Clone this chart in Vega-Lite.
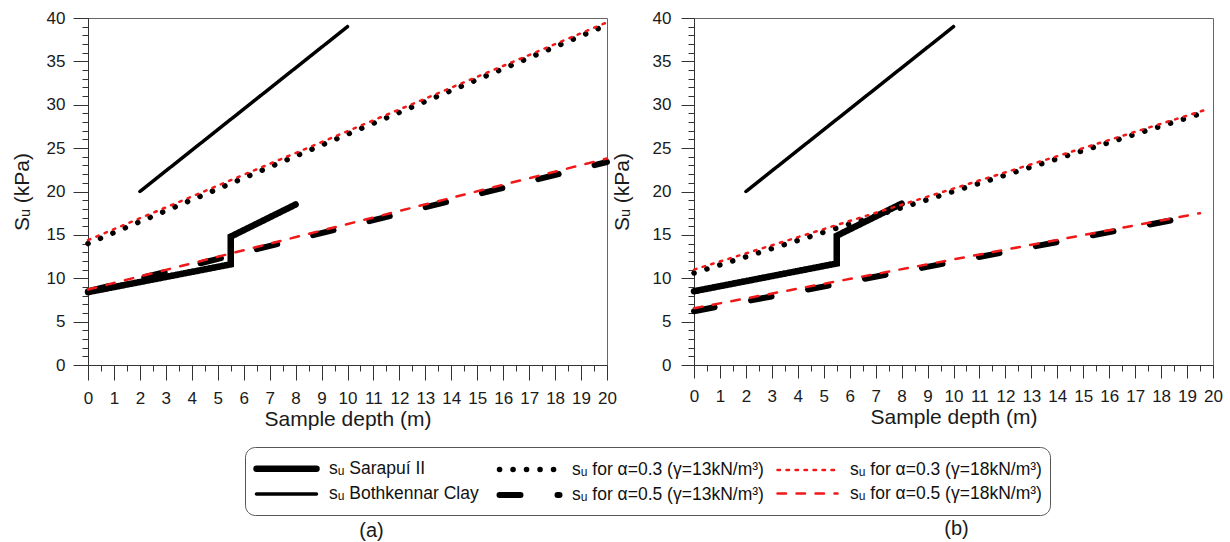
{
  "$schema": "https://vega.github.io/schema/vega-lite/v6.json",
  "padding": {"left": 10, "top": 8, "right": 5, "bottom": 5},
  "spacing": -10,
  "config": {
    "view": {"stroke": "#666", "strokeWidth": 1},
    "axis": {"labelFont": "Liberation Sans", "titleFont": "Liberation Sans", "titleFontWeight": "normal", "grid": false, "domainColor": "#333", "tickColor": "#333", "labelColor": "#1a1a1a", "titleColor": "#1a1a1a", "labelOverlap": false, "labelFlush": false},
    "legend": {"columns": 3, "symbolType": "M-1,0H5", "symbolSize": 400, "labelFont": "Liberation Sans", "labelFontSize": 17.5, "labelColor": "#111", "labelOffset": 49, "columnPadding": 8, "rowPadding": 0, "strokeColor": "#555", "cornerRadius": 10, "padding": 8, "labelLimit": 400},
    "title": {"font": "Liberation Sans", "fontSize": 20, "fontWeight": "normal", "color": "#1a1a1a"}
  },
  "data": {"values": [
    {"panel": "a", "series": "sᵤ Sarapuí II", "o": 1, "x": 0, "y": 8.4},
    {"panel": "a", "series": "sᵤ Sarapuí II", "o": 2, "x": 5.5, "y": 11.6},
    {"panel": "a", "series": "sᵤ Sarapuí II", "o": 3, "x": 5.5, "y": 14.8},
    {"panel": "a", "series": "sᵤ Sarapuí II", "o": 4, "x": 8, "y": 18.5},
    {"panel": "a", "series": "sᵤ Bothkennar Clay", "o": 1, "x": 2, "y": 20},
    {"panel": "a", "series": "sᵤ Bothkennar Clay", "o": 2, "x": 10, "y": 39},
    {"panel": "a", "series": "sᵤ for α=0.3 (γ=13kN/m³)", "o": 1, "x": 0, "y": 14.0},
    {"panel": "a", "series": "sᵤ for α=0.3 (γ=13kN/m³)", "o": 2, "x": 20, "y": 39.2},
    {"panel": "a", "series": "sᵤ for α=0.3 (γ=18kN/m³)", "o": 1, "x": 0, "y": 14.4},
    {"panel": "a", "series": "sᵤ for α=0.3 (γ=18kN/m³)", "o": 2, "x": 20, "y": 39.5},
    {"panel": "a", "series": "sᵤ for α=0.5 (γ=13kN/m³)", "o": 1, "x": 0, "y": 8.5},
    {"panel": "a", "series": "sᵤ for α=0.5 (γ=13kN/m³)", "o": 2, "x": 20, "y": 23.4},
    {"panel": "a", "series": "sᵤ for α=0.5 (γ=18kN/m³)", "o": 1, "x": 0, "y": 8.7},
    {"panel": "a", "series": "sᵤ for α=0.5 (γ=18kN/m³)", "o": 2, "x": 20, "y": 23.8},
    {"panel": "b", "series": "sᵤ Sarapuí II", "o": 1, "x": 0, "y": 8.5},
    {"panel": "b", "series": "sᵤ Sarapuí II", "o": 2, "x": 5.5, "y": 11.7},
    {"panel": "b", "series": "sᵤ Sarapuí II", "o": 3, "x": 5.5, "y": 14.9},
    {"panel": "b", "series": "sᵤ Sarapuí II", "o": 4, "x": 8, "y": 18.6},
    {"panel": "b", "series": "sᵤ Bothkennar Clay", "o": 1, "x": 2, "y": 20},
    {"panel": "b", "series": "sᵤ Bothkennar Clay", "o": 2, "x": 10, "y": 39},
    {"panel": "b", "series": "sᵤ for α=0.3 (γ=13kN/m³)", "o": 1, "x": 0, "y": 10.6},
    {"panel": "b", "series": "sᵤ for α=0.3 (γ=13kN/m³)", "o": 2, "x": 19.6, "y": 29.05},
    {"panel": "b", "series": "sᵤ for α=0.3 (γ=18kN/m³)", "o": 1, "x": 0, "y": 11.0},
    {"panel": "b", "series": "sᵤ for α=0.3 (γ=18kN/m³)", "o": 2, "x": 19.7, "y": 29.4},
    {"panel": "b", "series": "sᵤ for α=0.5 (γ=13kN/m³)", "o": 1, "x": 0, "y": 6.2},
    {"panel": "b", "series": "sᵤ for α=0.5 (γ=13kN/m³)", "o": 2, "x": 19.5, "y": 17.3},
    {"panel": "b", "series": "sᵤ for α=0.5 (γ=18kN/m³)", "o": 1, "x": 0, "y": 6.55},
    {"panel": "b", "series": "sᵤ for α=0.5 (γ=18kN/m³)", "o": 2, "x": 19.5, "y": 17.5}
  ]},
  "hconcat": [
    {
      "width": 519, "height": 347,
      "title": {"text": "(a)", "orient": "bottom", "offset": 92, "dx": 24},
      "transform": [{"filter": {"field": "panel", "equal": "a"}}],
      "encoding": {
        "x": {"field": "x", "type": "quantitative", "scale": {"domain": [0, 20], "nice": false, "zero": false}, "axis": null},
        "y": {"field": "y", "type": "quantitative", "scale": {"domain": [0, 40], "nice": false}, "axis": null},
        "order": {"field": "o"},
        "color": {"field": "series", "type": "nominal",
          "scale": {"domain": ["sᵤ Sarapuí II", "sᵤ Bothkennar Clay", "sᵤ for α=0.3 (γ=13kN/m³)", "sᵤ for α=0.5 (γ=13kN/m³)", "sᵤ for α=0.3 (γ=18kN/m³)", "sᵤ for α=0.5 (γ=18kN/m³)"], "range": ["#000000", "#000000", "#000000", "#000000", "#f01818", "#f01818"]},
          "legend": {"orient": "none", "legendX": 157, "legendY": 429, "title": null, "encoding": {"symbols": {"strokeCap": {"value": "round"}}}}},
        "strokeDash": {"field": "series", "type": "nominal",
          "scale": {"domain": ["sᵤ Sarapuí II", "sᵤ Bothkennar Clay", "sᵤ for α=0.3 (γ=13kN/m³)", "sᵤ for α=0.5 (γ=13kN/m³)", "sᵤ for α=0.3 (γ=18kN/m³)", "sᵤ for α=0.5 (γ=18kN/m³)"], "range": [[1, 0], [1, 0], [0.1, 13.4], [21, 37], [2.5, 6.5], [8.5, 10.5]]},
          "legend": {"orient": "none", "legendX": 157, "legendY": 429, "title": null, "encoding": {"symbols": {"strokeCap": {"value": "round"}}}}},
        "strokeWidth": {"field": "series", "type": "nominal",
          "scale": {"type": "ordinal", "domain": ["sᵤ Sarapuí II", "sᵤ Bothkennar Clay", "sᵤ for α=0.3 (γ=13kN/m³)", "sᵤ for α=0.5 (γ=13kN/m³)", "sᵤ for α=0.3 (γ=18kN/m³)", "sᵤ for α=0.5 (γ=18kN/m³)"], "range": [6.5, 3.5, 5.5, 6, 2.5, 2.5]},
          "legend": {"orient": "none", "legendX": 157, "legendY": 429, "title": null, "encoding": {"symbols": {"strokeCap": {"value": "round"}}}}}
      },
      "layer": [
        {"transform": [{"filter": {"field": "series", "equal": "sᵤ Sarapuí II"}}], "mark": {"type": "line", "strokeCap": "round"},
         "encoding": {
           "x": {"field": "x", "type": "quantitative", "axis": {"orient": "bottom", "values": [0,1,2,3,4,5,6,7,8,9,10,11,12,13,14,15,16,17,18,19,20], "tickSize": 15, "labelFontSize": 17, "labelPadding": 10, "title": "Sample depth (m)", "titleFontSize": 21, "titlePadding": 2}},
           "y": {"field": "y", "type": "quantitative", "axis": {"orient": "left", "values": [0,5,10,15,20,25,30,35,40], "tickSize": 15, "labelFontSize": 17, "labelPadding": 8, "title": "Sᵤ (kPa)", "titleFontSize": 21, "titlePadding": 14}}
         }},
        {"transform": [{"filter": {"field": "series", "equal": "sᵤ Bothkennar Clay"}}], "mark": {"type": "line", "strokeCap": "round"},
         "encoding": {
           "x": {"field": "x", "type": "quantitative", "axis": {"orient": "bottom", "values": [0.5,1.5,2.5,3.5,4.5,5.5,6.5,7.5,8.5,9.5,10.5,11.5,12.5,13.5,14.5,15.5,16.5,17.5,18.5,19.5], "tickSize": 6, "labels": false, "domain": false, "title": null}},
           "y": {"field": "y", "type": "quantitative", "axis": {"orient": "left", "values": [1,2,3,4,6,7,8,9,11,12,13,14,16,17,18,19,21,22,23,24,26,27,28,29,31,32,33,34,36,37,38,39], "tickSize": 6, "labels": false, "domain": false, "title": null}}
         }},
        {"transform": [{"filter": {"field": "series", "equal": "sᵤ for α=0.3 (γ=13kN/m³)"}}], "mark": {"type": "line", "strokeCap": "round"}},
        {"transform": [{"filter": {"field": "series", "equal": "sᵤ for α=0.5 (γ=13kN/m³)"}}], "mark": {"type": "line", "strokeCap": "round"}},
        {"transform": [{"filter": {"field": "series", "equal": "sᵤ for α=0.3 (γ=18kN/m³)"}}], "mark": {"type": "line", "strokeCap": "round"}},
        {"transform": [{"filter": {"field": "series", "equal": "sᵤ for α=0.5 (γ=18kN/m³)"}}], "mark": {"type": "line", "strokeCap": "round"}}
      ],
      "resolve": {"axis": {"x": "independent", "y": "independent"}}
    },
    {
      "width": 519, "height": 347,
      "title": {"text": "(b)", "orient": "bottom", "offset": 92, "dx": 3},
      "transform": [{"filter": {"field": "panel", "equal": "b"}}],
      "encoding": {
        "x": {"field": "x", "type": "quantitative", "scale": {"domain": [0, 20], "nice": false, "zero": false}, "axis": null},
        "y": {"field": "y", "type": "quantitative", "scale": {"domain": [0, 40], "nice": false}, "axis": null},
        "order": {"field": "o"},
        "color": {"field": "series", "type": "nominal",
          "scale": {"domain": ["sᵤ Sarapuí II", "sᵤ Bothkennar Clay", "sᵤ for α=0.3 (γ=13kN/m³)", "sᵤ for α=0.5 (γ=13kN/m³)", "sᵤ for α=0.3 (γ=18kN/m³)", "sᵤ for α=0.5 (γ=18kN/m³)"], "range": ["#000000", "#000000", "#000000", "#000000", "#f01818", "#f01818"]},
          "legend": null},
        "strokeDash": {"field": "series", "type": "nominal",
          "scale": {"domain": ["sᵤ Sarapuí II", "sᵤ Bothkennar Clay", "sᵤ for α=0.3 (γ=13kN/m³)", "sᵤ for α=0.5 (γ=13kN/m³)", "sᵤ for α=0.3 (γ=18kN/m³)", "sᵤ for α=0.5 (γ=18kN/m³)"], "range": [[1, 0], [1, 0], [0.1, 13.4], [21, 37], [2.5, 6.5], [8.5, 10.5]]},
          "legend": null},
        "strokeWidth": {"field": "series", "type": "nominal",
          "scale": {"type": "ordinal", "domain": ["sᵤ Sarapuí II", "sᵤ Bothkennar Clay", "sᵤ for α=0.3 (γ=13kN/m³)", "sᵤ for α=0.5 (γ=13kN/m³)", "sᵤ for α=0.3 (γ=18kN/m³)", "sᵤ for α=0.5 (γ=18kN/m³)"], "range": [6.5, 3.5, 5.5, 6, 2.5, 2.5]},
          "legend": null}
      },
      "layer": [
        {"transform": [{"filter": {"field": "series", "equal": "sᵤ Sarapuí II"}}], "mark": {"type": "line", "strokeCap": "round"},
         "encoding": {
           "x": {"field": "x", "type": "quantitative", "axis": {"orient": "bottom", "values": [0,1,2,3,4,5,6,7,8,9,10,11,12,13,14,15,16,17,18,19,20], "tickSize": 13, "labelFontSize": 17, "labelPadding": 10, "title": "Sample depth (m)", "titleFontSize": 21, "titlePadding": 2}},
           "y": {"field": "y", "type": "quantitative", "axis": {"orient": "left", "values": [0,5,10,15,20,25,30,35,40], "tickSize": 13, "labelFontSize": 17, "labelPadding": 10, "title": "Sᵤ (kPa)", "titleFontSize": 21, "titlePadding": 20}}
         }},
        {"transform": [{"filter": {"field": "series", "equal": "sᵤ Bothkennar Clay"}}], "mark": {"type": "line", "strokeCap": "round"},
         "encoding": {
           "x": {"field": "x", "type": "quantitative", "axis": {"orient": "bottom", "values": [0.5,1.5,2.5,3.5,4.5,5.5,6.5,7.5,8.5,9.5,10.5,11.5,12.5,13.5,14.5,15.5,16.5,17.5,18.5,19.5], "tickSize": 6, "labels": false, "domain": false, "title": null}},
           "y": {"field": "y", "type": "quantitative", "axis": {"orient": "left", "values": [1,2,3,4,6,7,8,9,11,12,13,14,16,17,18,19,21,22,23,24,26,27,28,29,31,32,33,34,36,37,38,39], "tickSize": 6, "labels": false, "domain": false, "title": null}}
         }},
        {"transform": [{"filter": {"field": "series", "equal": "sᵤ for α=0.3 (γ=13kN/m³)"}}], "mark": {"type": "line", "strokeCap": "round"}},
        {"transform": [{"filter": {"field": "series", "equal": "sᵤ for α=0.5 (γ=13kN/m³)"}}], "mark": {"type": "line", "strokeCap": "round"}},
        {"transform": [{"filter": {"field": "series", "equal": "sᵤ for α=0.3 (γ=18kN/m³)"}}], "mark": {"type": "line", "strokeCap": "round"}},
        {"transform": [{"filter": {"field": "series", "equal": "sᵤ for α=0.5 (γ=18kN/m³)"}}], "mark": {"type": "line", "strokeCap": "round"}}
      ],
      "resolve": {"axis": {"x": "independent", "y": "independent"}}
    }
  ]
}
